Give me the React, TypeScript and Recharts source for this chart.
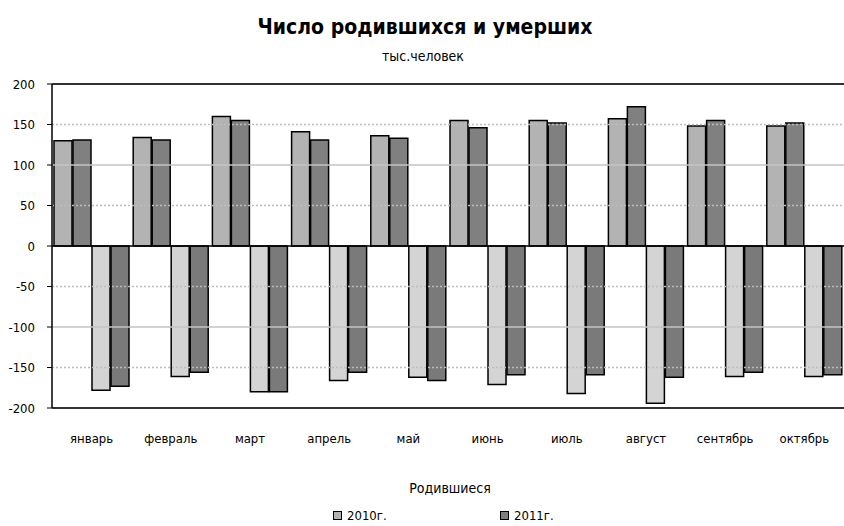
import React from 'react';
import { Bar, BarChart, ReferenceLine, XAxis, YAxis } from 'recharts';

const months = ['январь', 'февраль', 'март', 'апрель', 'май', 'июнь', 'июль', 'август', 'сентябрь', 'октябрь'];
const births2010 = [130, 134, 160, 141, 136, 155, 155, 157, 148, 148];
const births2011 = [131, 131, 155, 131, 133, 146, 152, 172, 155, 152];
const deaths2010 = [-178, -161, -180, -166, -162, -171, -182, -194, -161, -161];
const deaths2011 = [-173, -156, -180, -156, -166, -159, -159, -162, -156, -159];
const yTicks = [-200, -150, -100, -50, 0, 50, 100, 150, 200];
const dashedGrid = [-150, -50, 50, 150];
const solidGrid = [-100, 100];

const data = months.map((m, i) => ({
	month: m,
	b2010: births2010[i],
	b2011: births2011[i],
	d2010: deaths2010[i],
	d2011: deaths2011[i],
}));

const font = '"Liberation Sans Narrow", "DejaVu Sans Condensed", "Liberation Sans", Arial, sans-serif';
const tickStyle = { fontSize: 13, fill: '#000', fontFamily: font };

const App = () => {
	return (
		<div style={{ position: 'absolute', left: 0, top: 0, width: 844, height: 526, background: '#fff', fontFamily: font }}>
			<div style={{ position: 'absolute', top: 15, left: 0, width: 850, textAlign: 'center', fontSize: 21, fontWeight: 'bold' }}>
				Число родившихся и умерших
			</div>
			<div style={{ position: 'absolute', top: 48, left: 0, width: 846, textAlign: 'center', fontSize: 14 }}>
				тыс.человек
			</div>
			<BarChart
				width={844}
				height={526}
				data={data}
				margin={{ top: 84, right: 0, left: 0, bottom: 88 }}
				barCategoryGap={2}
				barGap={1}
			>
				{dashedGrid.map((v) => (
					<ReferenceLine key={v} y={v} stroke="#bdbdbd" strokeDasharray="2 2" strokeWidth={1.5} />
				))}
				{solidGrid.map((v) => (
					<ReferenceLine key={v} y={v} stroke="#c4c4c4" strokeWidth={1.5} />
				))}
				<XAxis dataKey="month" axisLine={false} tickLine={false} tick={tickStyle} height={30} tickMargin={20} interval={0} />
				<YAxis
					domain={[-200, 200]}
					ticks={yTicks}
					width={52}
					tick={tickStyle}
					tickSize={5}
					tickMargin={12}
					axisLine={{ stroke: '#000', strokeWidth: 1.5 }}
					tickLine={{ stroke: '#000' }}
					interval={0}
				/>
				<ReferenceLine y={200} stroke="#333" strokeWidth={2} />
				<ReferenceLine y={-200} stroke="#333" strokeWidth={2} />
				<Bar dataKey="b2010" fill="#b3b3b3" stroke="#000" strokeWidth={1.5} isAnimationActive={false} />
				<Bar dataKey="b2011" fill="#808080" stroke="#000" strokeWidth={1.5} isAnimationActive={false} />
				<Bar dataKey="d2010" fill="#d4d4d4" stroke="#000" strokeWidth={1.5} isAnimationActive={false} />
				<Bar dataKey="d2011" fill="#7a7a7a" stroke="#000" strokeWidth={1.5} isAnimationActive={false} />
				<ReferenceLine y={0} stroke="#000" strokeWidth={1.5} />
			</BarChart>
			<div style={{ position: 'absolute', top: 480, left: 390, width: 120, textAlign: 'center', fontSize: 14 }}>
				Родившиеся
			</div>
			<div style={{ position: 'absolute', top: 508, left: 333, fontSize: 13, lineHeight: '15px', display: 'flex', alignItems: 'center' }}>
				<span style={{ display: 'inline-block', width: 7, height: 7, background: '#b3b3b3', border: '1px solid #000', marginRight: 5 }} />
				2010г.
			</div>
			<div style={{ position: 'absolute', top: 508, left: 500, fontSize: 13, lineHeight: '15px', display: 'flex', alignItems: 'center' }}>
				<span style={{ display: 'inline-block', width: 7, height: 7, background: '#808080', border: '1px solid #000', marginRight: 5 }} />
				2011г.
			</div>
		</div>
	);
};

export default App;
